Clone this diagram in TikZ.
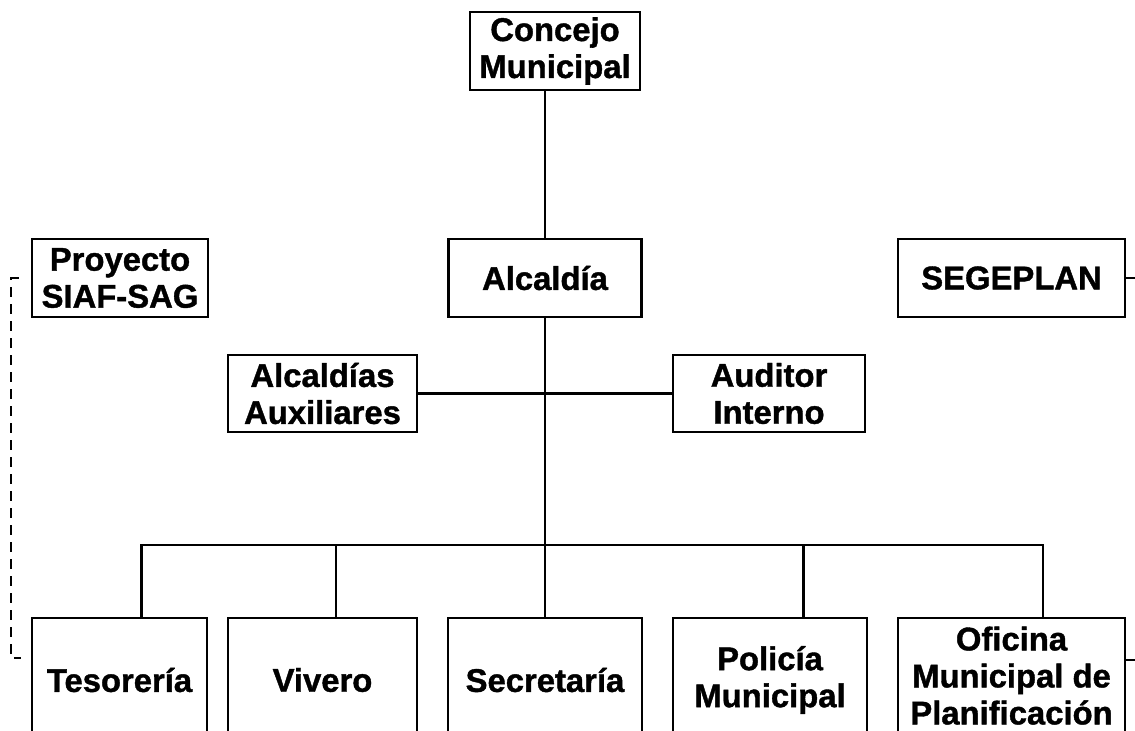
\documentclass[tikz,border=0pt]{standalone}
\usepackage{fontspec}
\setmainfont{Liberation Sans}[BoldFeatures={FakeBold=1.2}]
\usetikzlibrary{positioning}
\tikzstyle{unit} = [draw, rectangle, align=center, inner sep=2pt,
    font=\bfseries\fontsize{16.4}{18.5}\selectfont]
\tikzstyle{office} = [unit, minimum height=38.75pt]
\tikzstyle{dept} = [unit, minimum height=62pt]
\tikzstyle{dashlink} = [dash pattern=on 5pt off 3.5pt]

\begin{document}
\begin{tikzpicture}[x=0.5pt, y=-0.5pt, line width=1.1pt]
	  \clip (0,0) rectangle (1135,730);
	  % upper levels
	  \node [office, minimum width=85pt] (concejo) at (555,51) {Concejo\\Municipal};
	  \node [office, minimum width=96.5pt] (alcaldia) at (545,278) {Alcaldía};
	  \node [office, minimum width=88pt] (proyecto) at (120,278) {Proyecto\\SIAF-SAG};
	  \node [office, minimum width=113.5pt] (segeplan) at (1011.5,278) {SEGEPLAN};
	  \node [office, minimum width=94.5pt] (auxiliares) at (322.5,393.5) {Alcaldías\\Auxiliares};
	  \node [office, minimum width=96pt] (auditor) at (769,393.5) {Auditor\\Interno};
	  % dependencias
	  \node [dept, minimum width=87.5pt] (tesoreria) at (119.5,680) {Tesorería};
	  \node [dept, minimum width=94.5pt] (vivero) at (322.5,680) {Vivero};
	  \node [dept, minimum width=97pt] (secretaria) at (545,680) {Secretaría};
	  \node [dept, minimum width=97pt] (policia) at (770,680) {Policía\\Municipal};
	  \node [dept, minimum width=113.5pt] (oficina) at (1011.5,680) {\raisebox{3pt}{\begin{tabular}{@{}c@{}}Oficina\\Municipal de\\Planificación\end{tabular}}};
	  \coordinate (bus) at (545,545);
	  \draw (concejo.south -| alcaldia.north) -- (alcaldia.north);
	  \draw (alcaldia.south) -- (secretaria.north);
	  \draw (auxiliares.east) -- (auditor.west);
	  \draw ([xshift=11pt]tesoreria.north) |- ([xshift=15.75pt]oficina.north |- bus)
	        -- ([xshift=15.75pt]oficina.north);
	  \draw ([xshift=6.75pt]vivero.north) -- ([xshift=6.75pt]vivero.north |- bus);
	  \draw ([xshift=16.75pt]policia.north) -- ([xshift=16.75pt]policia.north |- bus);
	  % lineas de enlace
	  \draw [dashlink] ([xshift=-6pt]proyecto.west) -- ++(-8,0)
	        |- ([shift={(-5pt,11pt)}]tesoreria.west);
	  \draw (segeplan.east) -- ++(10,0);
	  \draw ([yshift=10pt]oficina.east) -- ++(10,0);
	\end{tikzpicture}
\end{document}
